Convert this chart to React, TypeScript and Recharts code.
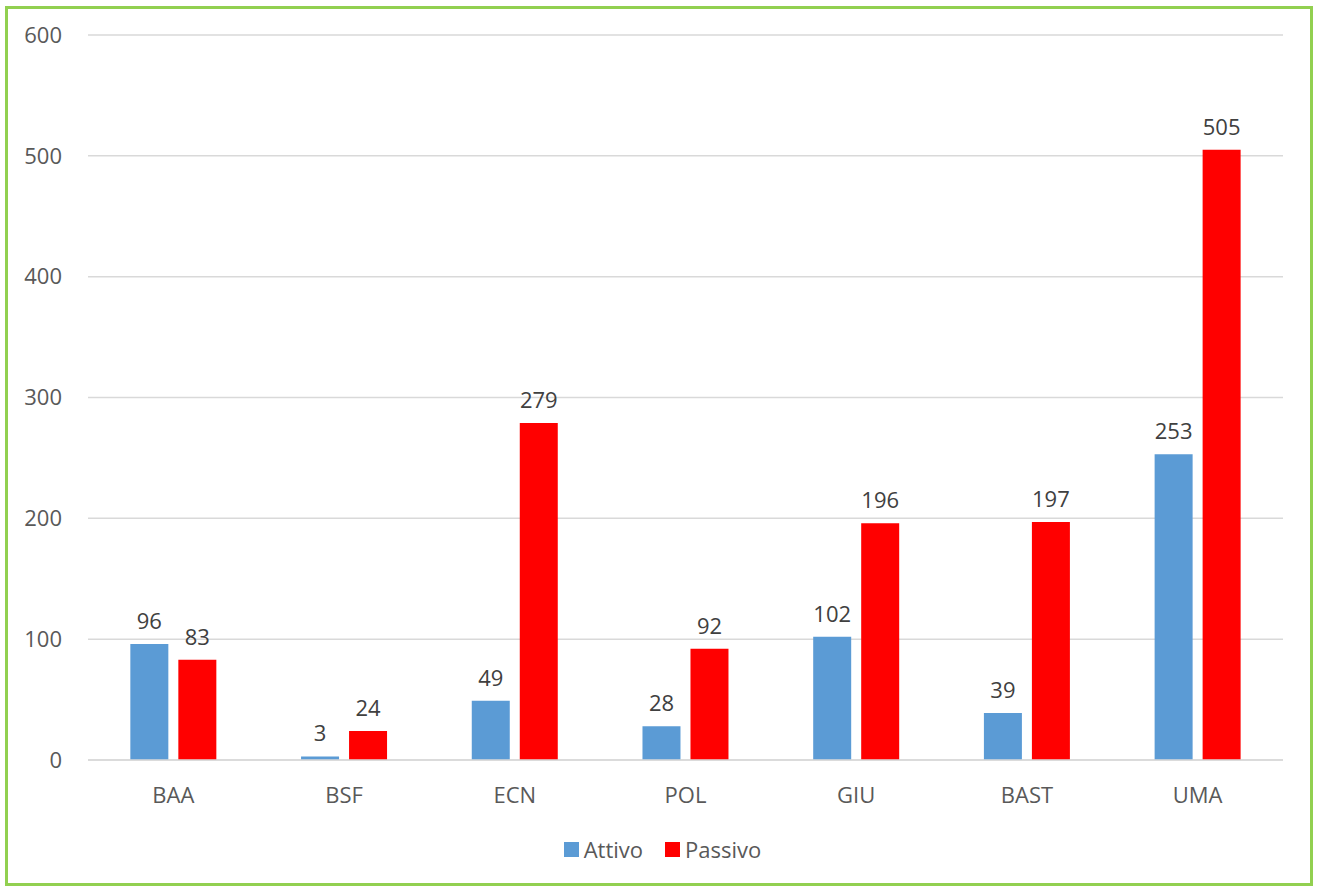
import { BarChart, Bar, XAxis, YAxis, CartesianGrid, Legend, LabelList } from 'recharts'

const categories = ['BAA', 'BSF', 'ECN', 'POL', 'GIU', 'BAST', 'UMA']
const attivo = [96, 3, 49, 28, 102, 39, 253]
const passivo = [83, 24, 279, 92, 196, 197, 505]
const yTicks = [0, 100, 200, 300, 400, 500, 600]

const data = categories.map((name, i) => ({ name, attivo: attivo[i], passivo: passivo[i] }))

const FONT = '"Open Sans", "Noto Sans", sans-serif'
const GRID = '#d9d9d9'
const TEXT = '#595959'

// eslint-disable-next-line @typescript-eslint/no-explicit-any
function LegendContent({ payload }: any) {
  return (
    <div style={{ display: 'flex', justifyContent: 'center', gap: 22, paddingLeft: 8, fontFamily: FONT, fontSize: 22, color: TEXT }}>
      {(payload || []).map((p: any) => (
        <div key={p.value} style={{ display: 'flex', alignItems: 'center', gap: 5 }}>
          <span style={{ display: 'inline-block', width: 15, height: 15, background: p.color }} />
          <span>{p.value}</span>
        </div>
      ))}
    </div>
  )
}

export default function App() {
  return (
    <div style={{ position: 'absolute', left: 0, top: 0, width: 1317, height: 888, background: '#fff', fontFamily: FONT }}>
      <div
        style={{
          position: 'absolute',
          left: 5,
          top: 6,
          width: 1308,
          height: 880,
          border: '3px solid #92d050',
          boxSizing: 'border-box',
        }}
      />
      <div style={{ position: 'absolute', left: 0, top: 0 }}>
        <BarChart
          width={1317}
          height={888}
          data={data}
          margin={{ top: 35, right: 34, bottom: 68, left: 0 }}
          barGap={10}
          barCategoryGap="24.8%"
        >
          <CartesianGrid horizontal vertical={false} stroke={GRID} strokeWidth={1.5} />
          <XAxis
            dataKey="name"
            tickLine={false}
            axisLine={{ stroke: GRID, strokeWidth: 1.5 }}
            tick={{ fill: TEXT, fontSize: 22, fontFamily: FONT }}
            tickMargin={21}
            interval={0}
          />
          <YAxis
            width={88}
            domain={[0, 600]}
            ticks={yTicks}
            tickLine={false}
            axisLine={false}
            tick={{ fill: TEXT, fontSize: 22, fontFamily: FONT }}
            tickMargin={20}
          />
          <Legend verticalAlign="bottom" content={<LegendContent />} wrapperStyle={{ top: 834, left: 0, width: 1317 }} />
          <Bar dataKey="attivo" name="Attivo" fill="#5b9bd5" isAnimationActive={false}>
            <LabelList dataKey="attivo" position="top" offset={15} fill="#404040" fontSize={22} fontFamily={FONT} />
          </Bar>
          <Bar dataKey="passivo" name="Passivo" fill="#ff0000" isAnimationActive={false}>
            <LabelList dataKey="passivo" position="top" offset={15} fill="#404040" fontSize={22} fontFamily={FONT} />
          </Bar>
        </BarChart>
      </div>
    </div>
  )
}
